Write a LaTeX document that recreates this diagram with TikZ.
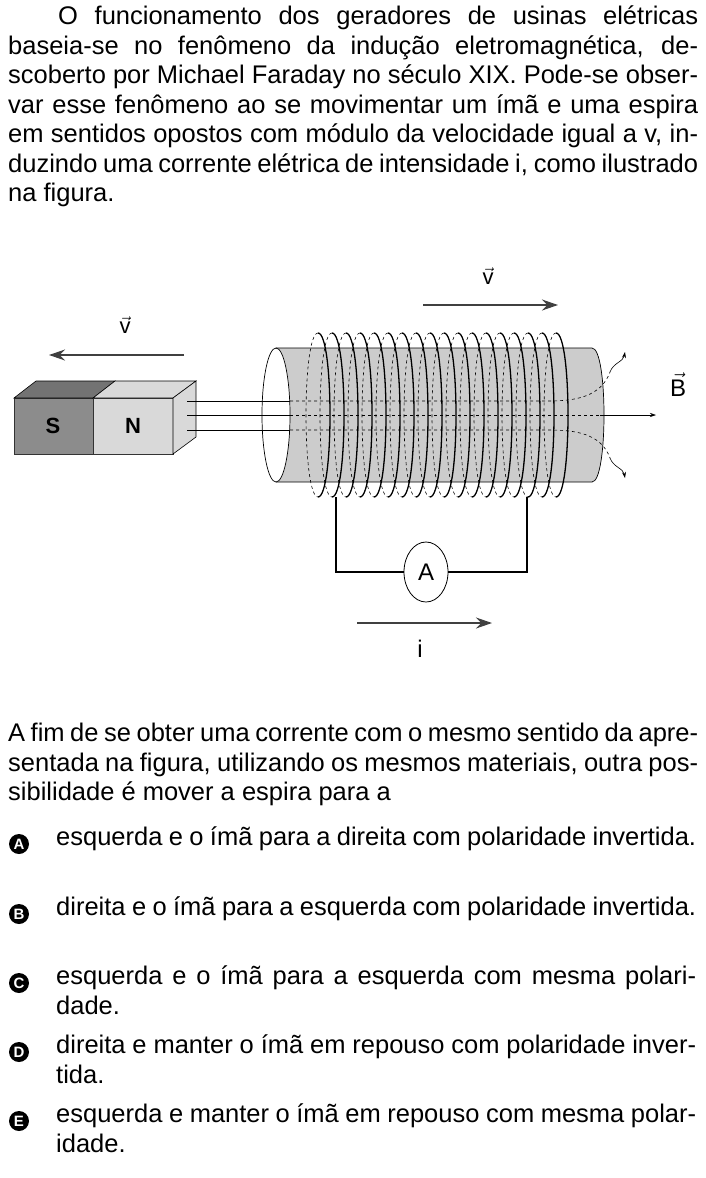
\documentclass[tikz,border=0pt]{standalone}
\usepackage{fontspec}
\setmainfont{Liberation Sans}
\usetikzlibrary{positioning, arrows.meta, shapes.geometric}

\tikzset{
  txt/.style = {anchor=north west, inner sep=0pt, align=justify, font=\fontsize{25.5}{29.5}\selectfont},
  badge/.style = {circle, fill=black, text=white, inner sep=0pt, minimum size=20pt, font=\fontsize{15}{15}\selectfont\bfseries},
  big/.style = {-{Stealth[length=16pt, width=11pt]}, line width=1.2pt, draw=black!75},
  fld/.style = {-{Stealth[length=6pt, width=4pt]}, line width=0.6pt},
  wire/.style = {line width=2.6pt},
}

\begin{document}
\begin{tikzpicture}[x=1pt, y=-1pt]
  \useasboundingbox (0,0) rectangle (705,1178);

  % enunciado
  \node[txt, text width=690pt] (intro) at (8,6) {\hspace*{50pt}O funcionamento dos geradores de usinas elétricas baseia-se no fenômeno da indução eletromagnética, descoberto por Michael Faraday no século XIX. Pode-se observar esse fenômeno ao se movimentar um ímã e uma espira em sentidos opostos com módulo da velocidade igual a v, induzindo uma corrente elétrica de intensidade i, como ilustrado na figura.};

  % ima
  \fill[black!45, draw=black!80, line width=0.6pt] (14,398) rectangle (93,454);
  \fill[black!15, draw=black!80, line width=0.6pt] (93,398) rectangle (173,454);
  \draw[fill=black!55, line width=0.6pt] (14,398) -- (36,381) -- (115,381) -- (93,398) -- cycle;
  \draw[fill=black!15, line width=0.6pt] (93,398) -- (115,381) -- (196,381) -- (173,398) -- cycle;
  \draw[fill=black!15, line width=0.6pt] (173,398) -- (196,381) -- (196,437) -- (173,454) -- cycle;
  \node[font=\fontsize{22}{22}\selectfont\bfseries] (S) at (53,426) {S};
  \node[font=\fontsize{22}{22}\selectfont\bfseries] (N) at (133,426) {N};

  % cilindro
  \fill[black!20] (276,348) -- (592,348) .. controls (608,348) and (608,482) .. (592,482) -- (276,482) -- cycle;
  \draw[line width=0.7pt] (276,348) -- (592,348) .. controls (608,348) and (608,482) .. (592,482) -- (276,482);
  \draw[fill=white, line width=0.7pt] (276,415) ellipse[x radius=14, y radius=67];

  % linhas de campo
  \foreach \y in {401,415,430}
    \draw[line width=0.7pt] (187,\y) -- (290,\y);
  \draw[dashed, line width=0.6pt] (290,401) -- (548,401) to[out=0, in=-110] (610,372);
  \draw[fld] (610,372) to[out=70, in=-100] (625,352);
  \draw[dashed, line width=0.6pt] (290,430) -- (548,430) to[out=0, in=110] (610,458);
  \draw[fld] (610,458) to[out=-70, in=100] (625,478);
  \draw[dashed, line width=0.6pt] (290,415) -- (600,415);
  \draw[fld] (600,415) -- (656,415);

  % bobina
  \foreach \c in {318,332,...,556} {
    \draw[dashed, line width=0.6pt] (\c,333) .. controls (\c-16,333) and (\c-16,497) .. (\c,497);
    \draw[line width=1.3pt] (\c,333) .. controls (\c+16,333) and (\c+16,497) .. (\c,497);
  }

  % circuito
  \node[draw, ellipse, line width=0.8pt, fill=white, minimum width=44pt, minimum height=60pt, inner sep=0pt, font=\fontsize{24}{24}\selectfont] (amp) at (426,572) {A};
  \coordinate (lt) at (336,497);
  \coordinate (rt) at (527,497);
  \draw[wire] (lt) -- (336,572) -- (amp.west);
  \draw[wire] (rt) -- (527,572) -- (amp.east);

  % setas
  \coordinate (v1a) at (184,355);
  \coordinate (v1b) at (49,355);
  \draw[big] (v1a) -- (v1b);
  \node[font=\fontsize{22}{22}\selectfont] (v1) at (125,325) {$\vec{\mathrm{v}}$};
  \coordinate (v2a) at (423,305);
  \coordinate (v2b) at (558,305);
  \draw[big] (v2a) -- (v2b);
  \node[font=\fontsize{22}{22}\selectfont] (v2) at (488,276) {$\vec{\mathrm{v}}$};
  \node[font=\fontsize{24}{24}\selectfont] (B) at (678,385) {$\vec{\mathrm{B}}$};
  \coordinate (ia) at (357,623);
  \coordinate (ib) at (492,623);
  \draw[big] (ia) -- (ib);
  \node[font=\fontsize{24}{24}\selectfont] (i) at (420,649) {i};

  % pergunta
  \node[txt, text width=690pt] (q) at (8,723) {A fim de se obter uma corrente com o mesmo sentido da apresentada na figura, utilizando os mesmos materiais, outra possibilidade é mover a espira para a};

  % alternativas
  \foreach \L/\y/\t in {
    A/827/{esquerda e o ímã para a direita com polaridade invertida.},
    B/897/{direita e o ímã para a esquerda com polaridade invertida.},
    C/966/{esquerda e o ímã para a esquerda com mesma polaridade.},
    D/1035/{direita e manter o ímã em repouso com polaridade invertida.},
    E/1104/{esquerda e manter o ímã em repouso com mesma polaridade.}} {
    \node[badge] (b\L) at (19,\y+17) {\L};
    \node[txt, text width=640pt] (o\L) at (56,\y) {\t};
  }
\end{tikzpicture}
\end{document}
